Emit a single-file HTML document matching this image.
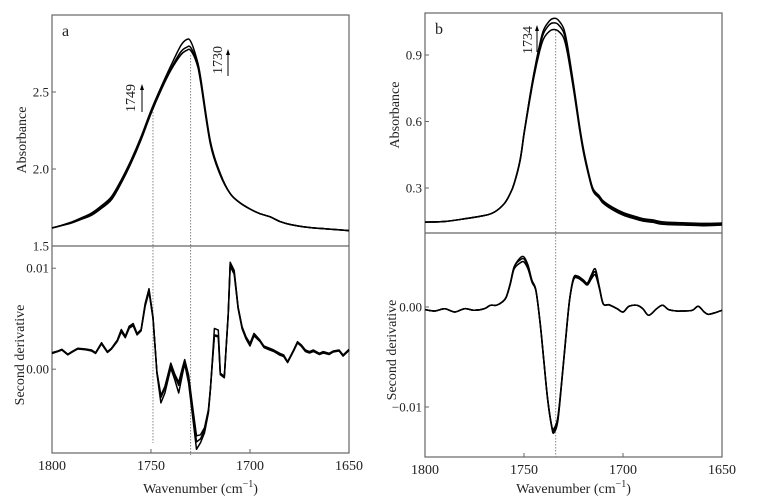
<!DOCTYPE html>
<html><head><meta charset="utf-8"><style>
html,body{margin:0;padding:0;background:#fff;}
svg{display:block;font-family:"Liberation Serif",serif;}
</style></head><body>
<svg id="chart" width="758" height="499" viewBox="0 0 758 499"></svg>
<script>
// ---------- Panel a data ----------
const aAbsX = [1800,1795,1790,1785,1780,1775,1770,1765,1760,1755,1750,1745,1740,1735,1732,1730,1727,1725,1720,1715,1710,1705,1700,1695,1690,1685,1680,1670,1660,1650];
const aAbs1 = [1.617,1.635,1.656,1.684,1.714,1.762,1.82,1.93,2.06,2.21,2.38,2.53,2.67,2.80,2.84,2.83,2.72,2.60,2.18,1.97,1.84,1.78,1.74,1.71,1.69,1.66,1.64,1.62,1.61,1.60];
const aAbs2 = [1.617,1.634,1.652,1.678,1.706,1.752,1.81,1.92,2.05,2.20,2.37,2.52,2.65,2.76,2.79,2.79,2.70,2.58,2.17,1.97,1.84,1.78,1.74,1.71,1.69,1.66,1.64,1.62,1.61,1.60];
const aAbs3 = [1.617,1.633,1.650,1.674,1.700,1.745,1.80,1.91,2.04,2.19,2.36,2.51,2.64,2.74,2.77,2.77,2.69,2.57,2.16,1.96,1.84,1.78,1.74,1.71,1.69,1.66,1.64,1.62,1.61,1.60];
const aDerX = [1800,1797,1795,1792,1790,1787,1783,1780,1778,1775,1772,1770,1767,1765,1763,1761,1759,1757,1755,1753,1751,1749,1747,1745,1743,1741,1740,1738,1736,1734,1733,1731,1729,1727,1725,1723,1721,1720,1718,1716,1715,1713,1711,1710,1708,1706,1704,1702,1700,1698,1695,1693,1690,1688,1685,1683,1681,1678,1676,1674,1672,1670,1668,1665,1663,1660,1658,1655,1653,1650];
const aDer1 = [1.64,1.80,1.97,1.48,1.74,2.07,2.0,1.9,1.64,2.62,1.74,2.07,2.89,3.93,3.28,4.26,4.52,3.54,3.93,6.49,7.97,5.18,-0.39,-3.34,-2.36,-0.72,0.10,-1.05,-2.36,-0.39,0.52,-1.38,-4.66,-7.93,-7.28,-6.30,-4.33,-2.03,4.03,3.87,-0.39,-0.72,5.51,10.59,9.77,6.16,4.20,3.21,2.56,3.54,2.89,2.30,2.07,1.90,1.57,1.41,0.75,1.90,2.72,2.39,1.90,1.74,1.90,1.57,1.74,1.57,1.80,1.90,1.41,1.97];
const aDer2 = [1.60,1.78,1.93,1.45,1.70,2.03,1.95,1.85,1.60,2.55,1.70,2.02,2.80,3.80,3.20,4.15,4.40,3.45,3.85,6.35,7.80,5.10,-0.30,-2.80,-1.90,-0.35,0.45,-0.70,-1.60,0.05,0.80,-0.90,-4.00,-7.20,-6.90,-6.00,-4.20,-2.00,3.40,3.30,-0.50,-0.80,5.40,10.40,9.60,6.10,4.10,3.10,2.40,3.40,2.80,2.20,1.95,1.80,1.45,1.30,0.70,1.85,2.65,2.30,1.80,1.65,1.80,1.50,1.65,1.50,1.75,1.85,1.35,1.90];
const aDer3 = [1.55,1.75,1.90,1.42,1.66,2.00,1.92,1.80,1.55,2.50,1.65,1.98,2.75,3.70,3.12,4.05,4.30,3.40,3.80,6.20,7.65,5.00,-0.25,-2.60,-1.70,-0.20,0.60,-0.50,-1.30,0.25,0.95,-0.60,-3.70,-6.60,-6.50,-5.80,-4.00,-1.90,3.30,3.20,-0.55,-0.85,5.30,10.20,9.40,6.00,4.00,3.00,2.30,3.30,2.75,2.15,1.90,1.75,1.40,1.25,0.65,1.80,2.60,2.25,1.75,1.60,1.75,1.45,1.60,1.45,1.70,1.80,1.30,1.85];
// ---------- Panel b data ----------
const bAbsX = [1800,1790,1780,1770,1765,1760,1757,1755,1752,1750,1747,1745,1742,1740,1737,1735,1733,1730,1728,1725,1722,1720,1717,1715,1712,1710,1705,1700,1695,1690,1685,1680,1670,1660,1650];
const bAbs1 = [0.146,0.149,0.161,0.176,0.191,0.229,0.274,0.320,0.425,0.546,0.713,0.818,0.950,1.015,1.055,1.065,1.060,1.020,0.940,0.770,0.585,0.478,0.355,0.295,0.265,0.242,0.212,0.190,0.175,0.162,0.156,0.147,0.143,0.140,0.142];
const bAbs2 = [0.146,0.149,0.161,0.176,0.191,0.229,0.274,0.320,0.425,0.546,0.713,0.815,0.940,1.000,1.038,1.045,1.040,1.002,0.925,0.760,0.578,0.470,0.350,0.290,0.260,0.237,0.206,0.184,0.169,0.156,0.150,0.141,0.138,0.135,0.138];
const bAbs3 = [0.146,0.149,0.161,0.176,0.191,0.229,0.274,0.318,0.420,0.540,0.700,0.800,0.920,0.975,1.008,1.015,1.010,0.978,0.905,0.745,0.568,0.462,0.344,0.284,0.254,0.231,0.200,0.178,0.163,0.151,0.145,0.136,0.133,0.130,0.133];
const bDerX = [1800,1795,1790,1785,1780,1775,1770,1767,1764,1761,1759,1757,1755,1752,1750,1748,1746,1744,1742,1740,1738,1736,1735,1733,1731,1729,1727,1725,1723,1720,1718,1716,1714,1712,1710,1707,1703,1700,1697,1693,1690,1687,1683,1680,1677,1673,1670,1665,1662,1659,1657,1654,1650];
const bDer1 = [-0.26,-0.40,-0.17,-0.50,-0.17,-0.33,-0.17,0.17,0.17,0.50,1.00,2.30,4.00,4.90,5.00,4.20,2.70,1.70,-1.30,-5.30,-9.30,-11.9,-12.2,-11.1,-7.5,-3.2,0.70,2.90,3.10,2.70,2.40,3.20,3.80,2.10,0.33,0.23,-0.17,-0.50,0.07,0.17,-0.17,-0.83,-0.17,0.17,-0.26,-0.40,-0.40,-0.33,0.07,-0.50,-0.73,-0.60,-0.33];
const bDer2 = [-0.26,-0.40,-0.17,-0.50,-0.17,-0.33,-0.17,0.17,0.17,0.50,1.00,2.30,4.00,4.70,4.80,4.00,2.60,1.66,-1.30,-5.30,-9.30,-11.9,-12.4,-11.3,-7.6,-3.3,0.66,2.80,3.00,2.60,2.30,3.00,3.50,2.00,0.33,0.23,-0.17,-0.50,0.07,0.17,-0.17,-0.83,-0.17,0.17,-0.26,-0.40,-0.40,-0.33,0.07,-0.50,-0.73,-0.60,-0.33];
const bDer3 = [-0.26,-0.40,-0.17,-0.50,-0.17,-0.33,-0.17,0.17,0.17,0.50,0.95,2.20,3.80,4.40,4.50,3.80,2.50,1.60,-1.35,-5.40,-9.40,-12.0,-12.6,-11.5,-7.7,-3.4,0.60,2.70,2.90,2.50,2.20,2.80,3.20,1.90,0.30,0.20,-0.17,-0.50,0.07,0.17,-0.17,-0.83,-0.17,0.17,-0.26,-0.40,-0.40,-0.33,0.07,-0.50,-0.73,-0.60,-0.33];
const aAbsTicks = [1.5,2.0,2.5], aAbsTickLabels = ["1.5","2.0","2.5"];
const aDerTicks = [0,10], aDerTickLabels = ["0.00","0.01"];
const bAbsTicks = [0.3,0.6,0.9], bAbsTickLabels = ["0.3","0.6","0.9"];
const bDerTicks = [-10,0], bDerTickLabels = ["\u22120.01","0.00"];
const xTicks = [1800,1750,1700,1650], xTickLabels = ["1800","1750","1700","1650"];

const NS="http://www.w3.org/2000/svg";
const svg=document.getElementById('chart');
function mk(tag,attrs,parent){const e=document.createElementNS(NS,tag);for(const k in attrs)e.setAttribute(k,attrs[k]);(parent||svg).appendChild(e);return e;}
function lin(d0,d1,r0,r1){return v=>r0+(v-d0)/(d1-d0)*(r1-r0);}
function smoothPath(pts){
  let d='M'+pts[0][0].toFixed(1)+','+pts[0][1].toFixed(1);
  for(let i=0;i<pts.length-1;i++){
    const p0=pts[Math.max(0,i-1)],p1=pts[i],p2=pts[i+1],p3=pts[Math.min(pts.length-1,i+2)];
    const c1x=p1[0]+(p2[0]-p0[0])/6,c1y=p1[1]+(p2[1]-p0[1])/6;
    const c2x=p2[0]-(p3[0]-p1[0])/6,c2y=p2[1]-(p3[1]-p1[1])/6;
    d+='C'+c1x.toFixed(1)+','+c1y.toFixed(1)+' '+c2x.toFixed(1)+','+c2y.toFixed(1)+' '+p2[0].toFixed(1)+','+p2[1].toFixed(1);
  }
  return d;
}

function panel(cfg){
  const g=mk('g',{});
  
  
  const X=lin(1800,1650,cfg.L,cfg.R);
  const Yt=lin(cfg.topDom[0],cfg.topDom[1],cfg.mid,cfg.T);
  const Yb=lin(cfg.botDom[0],cfg.botDom[1],cfg.B,cfg.mid);
  const fr=mk('rect',{x:cfg.L,y:cfg.T,width:cfg.R-cfg.L,height:cfg.B-cfg.T,fill:'none',stroke:'#666','stroke-width':1.2},g);
  
  const dv=mk('line',{x1:cfg.L,x2:cfg.R,y1:cfg.mid,y2:cfg.mid,stroke:'#666','stroke-width':1.2},g);
  
  cfg.guides.forEach(gd=>{
    const l=mk('line',{x1:X(gd.x),x2:X(gd.x),y1:gd.y1,y2:gd.y2,stroke:'#888','stroke-width':1,'stroke-dasharray':'1.5,1.5'},g);
    
  });
  function yt(ticks,labels,Y,nm){
    ticks.forEach((t,i)=>{
      const y=Y(t);
      const tk=mk('line',{x1:cfg.L,x2:cfg.L+4,y1:y,y2:y,stroke:'#666'},g);
      
      const tx=mk('text',{x:cfg.L-3,y:y+4.5,'text-anchor':'end','font-size':13,fill:'#222'},g);
      tx.textContent=labels[i];
      
    });
  }
  yt(cfg.topTicks,cfg.topLabels,Yt,'absorbance-axis');
  yt(cfg.botTicks,cfg.botLabels,Yb,'derivative-axis');
  xTicks.forEach((t,i)=>{
    const x=X(t);
    const tk=mk('line',{x1:x,x2:x,y1:cfg.B,y2:cfg.B-4,stroke:'#666'},g);
    
    const tx=mk('text',{x:x,y:cfg.B+17,'text-anchor':'middle','font-size':14,fill:'#222'},g);
    tx.textContent=xTickLabels[i];
    
  });
  function series(xs,ys,Y,nm,smooth){
    const pts=xs.map((x,i)=>[X(x),Y(ys[i])]);
    const d=smooth?smoothPath(pts):pts.map((p,i)=>(i?'L':'M')+p[0].toFixed(1)+','+p[1].toFixed(1)).join('');
    const p=mk('path',{d:d,fill:'none',stroke:'#000','stroke-width':1.5,'stroke-linejoin':'round'},g);
    
  }
  cfg.abs.forEach((s,i)=>series(cfg.absX,s,Yt,'absorbance-curve-'+(i+1),true));
  cfg.der.forEach((s,i)=>series(cfg.derX,s,Yb,'derivative-curve-'+(i+1),cfg.smoothDer));
  const ta=mk('text',{x:0,y:0,'font-size':14,'text-anchor':'middle',fill:'#222',transform:`translate(${cfg.ytX},${cfg.ytA}) rotate(-90)`},g);
  ta.textContent='Absorbance';
  const tb=mk('text',{x:0,y:0,'font-size':14,'text-anchor':'middle',fill:'#222',transform:`translate(${cfg.ytX2},${cfg.ytB}) rotate(-90)`},g);
  tb.textContent='Second derivative';
  const xt=mk('text',{x:(cfg.L+cfg.R)/2,y:493,'font-size':14,'text-anchor':'middle',fill:'#222'},g);
  xt.innerHTML='Wavenumber (cm<tspan font-size="10" dy="-6">\u22121</tspan><tspan dy="6">)</tspan>';
  
  const pl=mk('text',{x:cfg.L+10,y:cfg.T+21,'font-size':16,fill:'#222'},g);
  pl.textContent=cfg.letter;
  cfg.ann.forEach(a=>{
    const t=mk('text',{x:0,y:0,'font-size':14,'text-anchor':'middle',fill:'#222',transform:`translate(${a.tx},${a.ty}) rotate(-90)`},g);
    t.textContent=a.label;
    const l=mk('line',{x1:a.ax,x2:a.ax,y1:a.y1,y2:a.y2+5,stroke:'#000','stroke-width':1},g);
    
    const h=mk('polygon',{points:`${a.ax-2},${a.y2+6} ${a.ax+2},${a.y2+6} ${a.ax},${a.y2}`,fill:'#000'},g);
    
  });
}

panel({name:'panel-a',letter:'a',L:52,R:349,T:15,mid:246,B:453,
  topDom:[1.5,3.0],botDom:[-8.3,12.2],
  topTicks:aAbsTicks,topLabels:aAbsTickLabels,botTicks:aDerTicks,botLabels:aDerTickLabels,
  absX:aAbsX,abs:[aAbs1,aAbs2,aAbs3],derX:aDerX,der:[aDer1,aDer2,aDer3],smoothDer:false,
  guides:[{x:1749,y1:112,y2:443},{x:1730,y1:55,y2:455}],
  ytX:26,ytX2:24,ytA:140,ytB:355,
  ann:[{label:'1749',tx:135,ty:98,ax:142,y1:112,y2:84},{label:'1730',tx:222,ty:60,ax:228,y1:76,y2:49}]});
panel({name:'panel-b',letter:'b',L:425,R:722,T:13,mid:233,B:457,
  topDom:[0.0969,1.0895],botDom:[-15,7.4],
  topTicks:bAbsTicks,topLabels:bAbsTickLabels,botTicks:bDerTicks,botLabels:bDerTickLabels,
  absX:bAbsX,abs:[bAbs1,bAbs2,bAbs3],derX:bDerX,der:[bDer1,bDer2,bDer3],smoothDer:true,
  guides:[{x:1734,y1:30,y2:457}],
  ytX:399,ytX2:396,ytA:115,ytB:350,
  ann:[{label:'1734',tx:532,ty:40,ax:537,y1:52,y2:25}]});
</script>
</body></html>
